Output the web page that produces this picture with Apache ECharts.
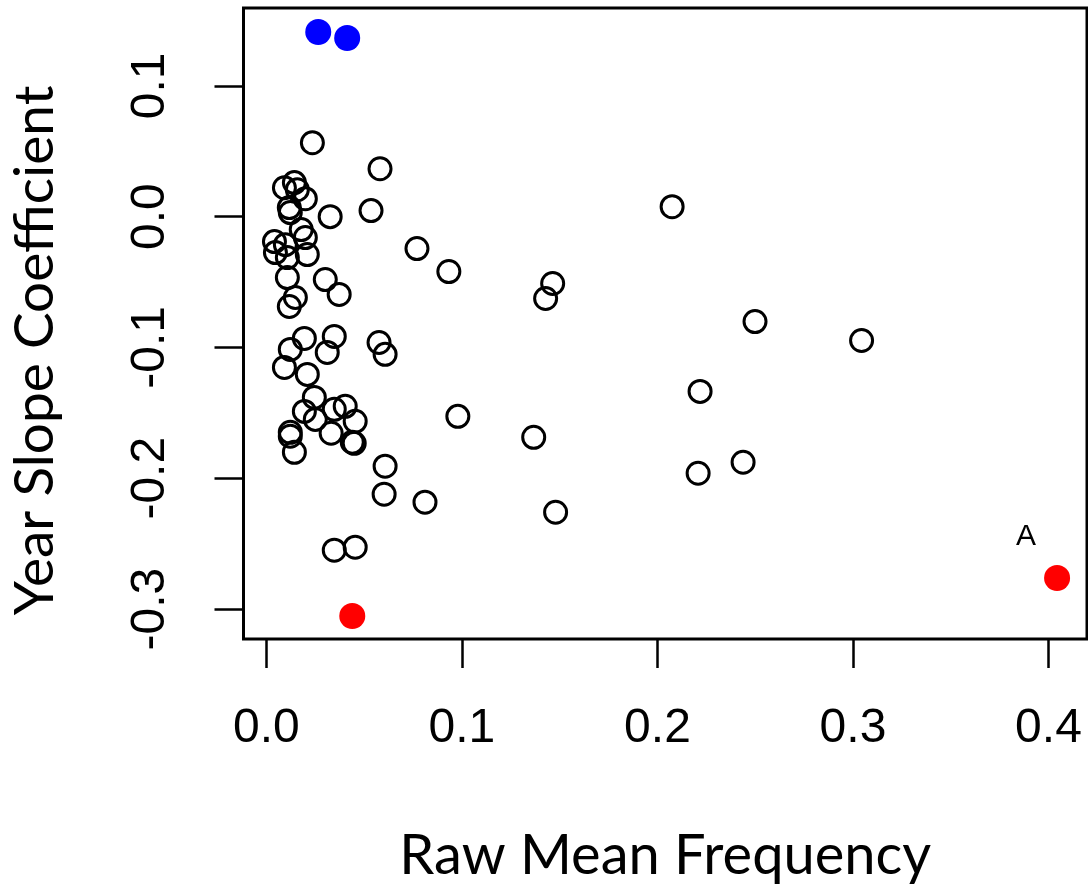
<!DOCTYPE html>
<html>
<head>
<meta charset="utf-8">
<script src="https://cdn.jsdelivr.net/npm/echarts@6/dist/echarts.min.js"></script>
<style>
  html, body { margin: 0; padding: 0; background: #fff; }
  #chart { width: 1088px; height: 889px; }
</style>
</head>
<body>
<div id="chart"></div>
<script>
// open circles
var openX = [0.0235, 0.0581, 0.0092, 0.0143, 0.0158, 0.0199, 0.0117, 0.0122, 0.0326, 0.0535,
  0.2075, 0.0178, 0.0199, 0.0041, 0.0097, 0.0046, 0.0107, 0.0209, 0.0770, 0.0933,
  0.0107, 0.0301, 0.0372, 0.0148, 0.0117, 0.1464, 0.1428, 0.2499, 0.3044, 0.0347,
  0.0194, 0.0122, 0.0311, 0.0576, 0.0607, 0.0092, 0.0209, 0.2218, 0.0245, 0.0194,
  0.0250, 0.0347, 0.0403, 0.0454, 0.0979, 0.1367, 0.0331, 0.0122, 0.0122, 0.0439,
  0.0449, 0.0143, 0.0607, 0.0602, 0.0811, 0.1479, 0.2208, 0.2438, 0.0347, 0.0454];
var openY = [0.0565, 0.0366, 0.0221, 0.0260, 0.0206, 0.0137, 0.0069, 0.0031, 0.0000, 0.0046,
  0.0076, -0.0099, -0.0160, -0.0191, -0.0214, -0.0275, -0.0313, -0.0290, -0.0244, -0.0420,
  -0.0466, -0.0481, -0.0595, -0.0618, -0.0687, -0.0511, -0.0626, -0.0802, -0.0947, -0.0916,
  -0.0931, -0.1015, -0.1038, -0.0962, -0.1053, -0.1153, -0.1206, -0.1336, -0.1382, -0.1489,
  -0.1550, -0.1473, -0.1450, -0.1565, -0.1527, -0.1687, -0.1656, -0.1649, -0.1679, -0.1725,
  -0.1733, -0.1802, -0.1908, -0.2122, -0.2183, -0.2260, -0.1962, -0.1878, -0.2550, -0.2527];
// highlighted points
var blueX = [0.0265, 0.0413];
var blueY = [0.1412, 0.1366];
var redX = [0.0439, 0.4044];
var redY = [-0.3053, -0.2763];
var redNames = ['', 'A'];

var xTicks = [0, 0.1, 0.2, 0.3, 0.4];
var yTicks = [-0.3, -0.2, -0.1, 0, 0.1];

function pairs(xs, ys) {
  var out = [];
  for (var i = 0; i < xs.length; i++) {
    out.push([xs[i], ys[i]]);
  }
  return out;
}

var redData = [];
for (var i = 0; i < redX.length; i++) {
  var item = { value: [redX[i], redY[i]] };
  if (redNames[i]) {
    item.label = {
      show: true,
      formatter: redNames[i],
      position: 'inside',
      offset: [-31, -41],
      color: '#000',
      fontSize: 30,
      fontFamily: 'Liberation Sans'
    };
  }
  redData.push(item);
}

var chart = echarts.init(document.getElementById('chart'));
chart.setOption({
  animation: false,
  backgroundColor: '#fff',
  grid: {
    left: 241, top: 8, right: 1, bottom: 249,
    show: true,
    borderColor: '#000',
    borderWidth: 3
  },
  xAxis: {
    type: 'value',
    min: -0.01173,
    max: 0.4197,
    name: 'Raw Mean Frequency',
    nameLocation: 'middle',
    nameGap: 217,
    nameTextStyle: {
      fontFamily: 'Lato', fontSize: 56, color: '#000', verticalAlign: 'middle'
    },
    axisLine: { show: false, onZero: false },
    splitLine: { show: false },
    axisTick: {
      show: true, length: 29, customValues: xTicks,
      lineStyle: { color: '#000', width: 2.5 }
    },
    axisLabel: {
      customValues: xTicks,
      margin: 90,
      verticalAlign: 'middle',
      fontFamily: 'Liberation Sans', fontSize: 48, color: '#000',
      formatter: function (v) { return v.toFixed(1); }
    }
  },
  yAxis: {
    type: 'value',
    min: -0.3229,
    max: 0.1595,
    name: 'Year Slope Coefficient',
    nameLocation: 'middle',
    nameRotate: 90,
    nameGap: 208,
    nameTextStyle: {
      fontFamily: 'Lato', fontSize: 55, color: '#000', verticalAlign: 'middle',
      padding: [0, 54, 0, 0]
    },
    axisLine: { show: false, onZero: false },
    splitLine: { show: false },
    axisTick: {
      show: true, length: 29, customValues: yTicks,
      lineStyle: { color: '#000', width: 2.5 }
    },
    axisLabel: {
      customValues: yTicks,
      rotate: 90,
      margin: 93,
      verticalAlign: 'middle',
      fontFamily: 'Liberation Sans', fontSize: 48, color: '#000',
      formatter: function (v) { return v.toFixed(1); }
    }
  },
  series: [
    {
      type: 'scatter',
      data: pairs(openX, openY),
      symbol: 'circle',
      symbolSize: 22,
      itemStyle: { color: 'rgba(0,0,0,0)', borderColor: '#000', borderWidth: 3, opacity: 1 },
      emphasis: { disabled: true }
    },
    {
      type: 'scatter',
      data: pairs(blueX, blueY),
      symbol: 'circle',
      symbolSize: 26,
      itemStyle: { color: '#0000ff', opacity: 1 },
      emphasis: { disabled: true }
    },
    {
      type: 'scatter',
      data: redData,
      symbol: 'circle',
      symbolSize: 26,
      itemStyle: { color: '#ff0000', opacity: 1 },
      emphasis: { disabled: true }
    }
  ]
});
</script>
</body>
</html>
